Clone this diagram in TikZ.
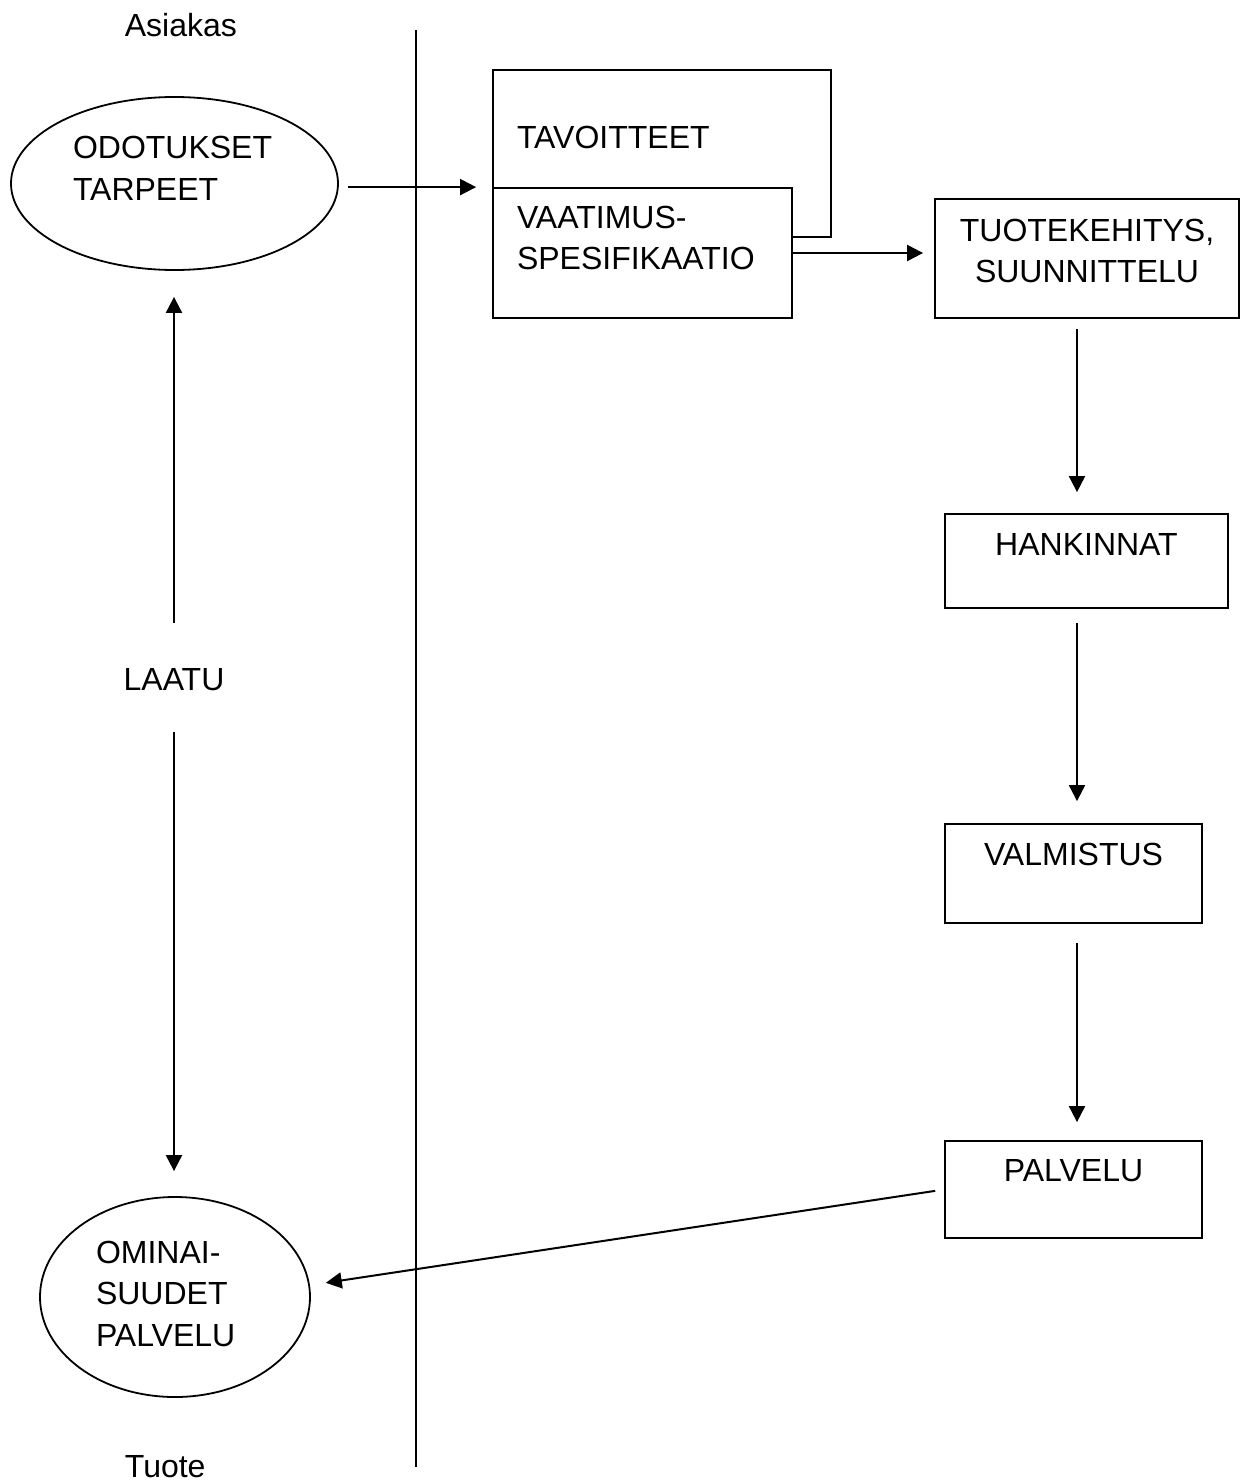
\documentclass[tikz,border=0pt]{standalone}
\usepackage{fontspec}
\setmainfont{Liberation Sans}
\usetikzlibrary{shapes.geometric,arrows.meta}

\begin{document}
\begin{tikzpicture}[x=1pt, y=-1pt, >={Triangle[length=16pt,width=16pt]},
		line width=1.8pt, font=\fontsize{32}{41.5}\selectfont,
		conn/.style={->, line width=2pt},
		oval/.style={draw, ellipse, inner sep=2pt, align=left, text height=23pt},
		box/.style={draw, rectangle, fill=white, inner sep=2pt, text height=23pt}]
		\useasboundingbox (0,0) rectangle (1240,1482);
		% dividing line between customer side and product side
		\coordinate (divtop) at (416,30);
		\coordinate (divbot) at (416,1467);
		\draw[line width=2pt] (divtop) -- (divbot);
		% left column
		\node[anchor=base west, inner sep=0pt] (asiakas) at (124,37) {Asiakas};
		\node[anchor=base west, inner sep=0pt] (tuote) at (124,1477) {Tuote};
		\node[oval, minimum width=327pt, minimum height=173pt, text width=203pt, text depth=72pt] (odot) at (174.5,183.5) {ODOTUKSET\\TARPEET};
		\node[oval, minimum width=270pt, minimum height=200pt, text width=158pt, text depth=91pt] (omin) at (175,1297) {OMINAI-\\SUUDET\\PALVELU};
		\node[anchor=base, inner sep=0pt] (laatu) at (174,690) {LAATU};
		\draw[conn, shorten <=44pt, shorten >=26pt] (laatu.north) -- (laatu.north |- odot.south);
		\draw[conn, shorten <=41pt, shorten >=25pt] (laatu.south) -- (laatu.south |- omin.north);
		% requirements
		\node[box, minimum width=338pt, minimum height=167pt, text width=290pt, align=left, text depth=32pt] (tavo) at (662,153.5) {TAVOITTEET};
		\node[box, minimum width=299pt, minimum height=130pt, text width=251pt, align=left, text depth=73pt] (vaat) at (642.5,253) {VAATIMUS-\\SPESIFIKAATIO};
		\draw[conn, shorten <=9pt, shorten >=16pt] (odot.east |- vaat.north west) -- (vaat.north west);
		% process chain
		\node[box, minimum width=304pt, minimum height=119pt, text width=300pt, align=center, text depth=58pt] (tuot) at (1087,258.5) {TUOTEKEHITYS,\\SUUNNITTELU};
		\node[box, minimum width=283pt, minimum height=94pt, text depth=35pt] (hank) at (1086.5,561) {HANKINNAT};
		\node[box, minimum width=257pt, minimum height=99pt, text depth=40pt] (valm) at (1073.5,873.5) {VALMISTUS};
		\node[box, minimum width=257pt, minimum height=97pt, text depth=40pt] (palv) at (1073.5,1189.5) {PALVELU};
		\draw[conn, shorten >=11pt] (vaat.east) -- (vaat.east -| tuot.west);
		\coordinate (ax) at (1077,0);
		\foreach \a/\b/\s/\e in {tuot/hank/10/21, hank/valm/14/22, valm/palv/19/18}
			\draw[conn, shorten <=\s pt, shorten >=\e pt] (\a.south -| ax) -- (\b.north -| ax);
		\draw[conn, shorten <=9pt, shorten >=16pt] (palv.west) -- (omin.5);
	\end{tikzpicture}
\end{document}
